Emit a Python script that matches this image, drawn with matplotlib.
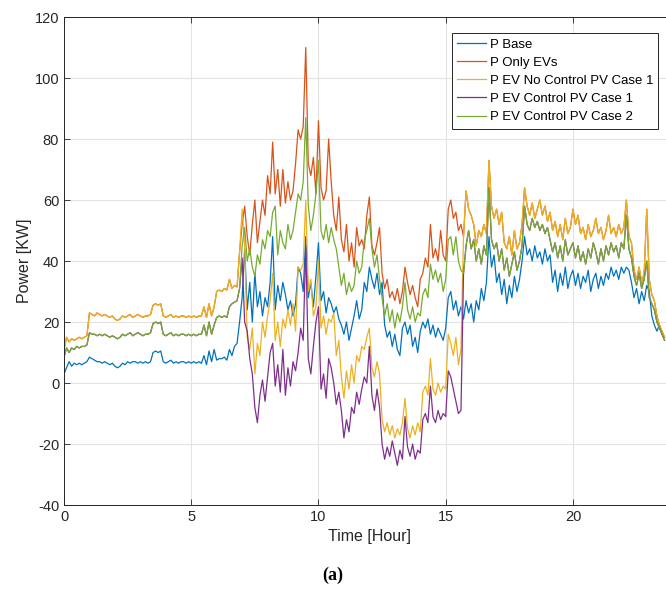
import numpy as np
import matplotlib
matplotlib.use("Agg")
import matplotlib.pyplot as plt

# 6-minute samples over the day, split into night / daytime (PV) / evening blocks
# night block: 0.0 .. 6.9 h
base_a = [3, 5, 7, 5.5, 6.5, 6, 6.5, 6, 6.5, 7,
          8.5, 8, 7.5, 7, 7, 6.5, 7, 6.5, 6, 6.5,
          5.5, 5, 5.5, 6.5, 6, 7, 6.5, 7, 7, 6.5,
          7, 6.5, 7, 6.5, 7, 10, 10.5, 10, 10.5, 7,
          6.5, 7, 7.5, 6.5, 7, 6.5, 7, 7, 6.5, 7,
          6.5, 7, 6.5, 7, 6.5, 9, 6, 10.5, 7, 11,
          7.5, 8, 8, 8.5, 7.5, 11, 9, 12, 13, 20]
ev_a = [11, 15, 13.5, 14.5, 14, 14.5, 15, 14.5, 15, 15.5,
        23, 22.5, 22, 23, 22.5, 22, 22.5, 22, 21.5, 22,
        21, 20.5, 21, 22, 21.5, 22, 22.5, 21.5, 22, 22.5,
        22, 21.5, 22, 22, 22.5, 25.5, 26, 25.5, 26, 22,
        21.5, 22, 22.5, 21.5, 22, 21.5, 22, 22, 21.5, 22,
        21.5, 22, 21.5, 22, 22, 25, 21.5, 26, 22, 25,
        30, 30.5, 30, 31, 30.5, 34, 31, 32, 31.5, 43]
ctl_a = [8.5, 11.5, 10, 11.5, 11, 12, 11.5, 12, 12, 12.5,
         16.5, 16, 16, 15.5, 16, 15.5, 16, 15.5, 15, 15.5,
         15, 14.5, 15, 16, 15.5, 16, 16.5, 15.5, 16, 16.5,
         16, 15.5, 16, 16, 16.5, 19.5, 20, 19.5, 20, 16,
         15.5, 16, 16.5, 15.5, 16, 15.5, 16, 16, 15.5, 16,
         15.5, 16, 15.5, 16, 16, 19, 15.5, 20, 16, 19,
         21.5, 22, 21.5, 22, 21.5, 25, 26, 26.5, 27, 31]

# daytime block: 7.0 .. 15.6 h
base_b = [28, 44, 24, 33, 20, 36, 25, 30, 22, 28,
          25, 33, 48, 24, 32, 27, 33, 29, 24, 27,
          22, 26, 38, 36, 30, 48, 28, 33, 25, 35,
          46, 27, 30, 23, 28, 26, 23, 25, 21, 19,
          16, 20, 14, 18, 22, 27, 21, 24, 33, 30,
          38, 34, 31, 36, 29, 33, 19, 15, 17, 12,
          16, 11, 9, 18, 20, 16, 19, 12, 15, 10,
          17, 20, 18, 21, 16, 19, 15, 18, 16, 14,
          18, 28, 30, 24, 27, 22, 25]
only_ev_b = [52, 58, 48, 42, 52, 60, 46, 53, 60, 55,
             68, 62, 79, 62, 70, 58, 70, 59, 66, 60,
             63, 72, 83, 80, 84, 110, 72, 68, 74, 62,
             86, 64, 60, 63, 80, 66, 55, 50, 61, 47,
             43, 52, 40, 46, 38, 51, 45, 47, 44, 55,
             61, 45, 42, 46, 51, 36, 31, 34, 28, 30,
             27, 31, 26, 30, 38, 33, 29, 32, 28, 25,
             34, 36, 41, 38, 52, 41, 44, 40, 50, 42,
             40, 57, 60, 54, 56, 50, 52]
nc_pv1_b = [57, 45, 15, 11, 18, 3, 13, 9, 20, 15,
            22, 27, 36, 14, 20, 12, 21, 18, 24, 19,
            26, 17, 38, 37, 39, 60, 30, 34, 22, 25,
            40, 18, 22, 16, 21, 20, 23, 9, 14, 2,
            -5, 4, -2, 6, 0, 9, 7, 12, 11, 15,
            18, 5, 2, 7, 3, -12, -16, -13, -17, -14,
            -18, -15, -17, -13, -5, -15, -18, -14, -17, -13,
            -16, -3, -1, -4, 8, -2, -4, 0, -3, -1,
            -2, 16, 13, 9, 15, 6, 11]
ctl_pv1_b = [41, 20, 17, 8, 3, -8, -13, -4, 1, -6,
             2, 10, 13, -1, 6, -3, 11, -4, 5, -1,
             7, 4, 10, 18, 14, 45, 8, 3, 12, 20,
             25, -2, 3, -5, 8, 5, 0, -7, -3, -9,
             -18, -12, -16, -8, -10, -3, -7, -2, 2, 0,
             12, -4, -9, -2, -8, -20, -25, -21, -24, -19,
             -23, -27, -22, -25, -11, -21, -24, -20, -25, -22,
             -23, -12, -10, -13, -1, -11, -13, -9, -12, -10,
             -11, 4, 2, -2, -6, -10, -9]
ctl_pv2_b = [45, 51, 40, 44, 38, 35, 42, 39, 47, 44,
             50, 48, 56, 58, 42, 50, 46, 44, 52, 47,
             50, 56, 62, 60, 66, 87, 58, 50, 55, 62,
             73, 50, 47, 52, 46, 51, 47, 44, 38, 32,
             36, 29, 33, 30, 32, 40, 36, 38, 47, 50,
             54, 44, 38, 42, 34, 28, 22, 26, 20, 24,
             18, 23, 20, 25, 33, 24, 21, 25, 20, 23,
             22, 29, 31, 28, 39, 34, 37, 33, 36, 30,
             34, 47, 48, 42, 48, 40, 37]

# evening block: 15.7 .. 23.6 h
base_c = [21, 27, 23, 26, 20, 27, 24, 31, 27, 33,
          48, 38, 42, 33, 36, 29, 34, 26, 32, 28,
          35, 30, 34, 40, 48, 42, 44, 40, 45, 41,
          43, 39, 44, 40, 42, 33, 37, 30, 36, 32,
          38, 31, 35, 37, 32, 36, 31, 35, 33, 37,
          30, 34, 36, 31, 35, 32, 36, 34, 38, 35,
          37, 34, 38, 36, 38, 37, 33, 28, 31, 26,
          30, 27, 32, 30, 22, 19, 17, 19, 16, 15]
ev_c = [48, 63, 57, 55, 52, 45, 50, 48, 52, 49,
        73, 58, 54, 57, 52, 56, 46, 44, 48, 42,
        50, 44, 46, 52, 64, 58, 55, 59, 54, 57,
        60, 55, 58, 53, 56, 50, 53, 48, 52, 47,
        54, 49, 51, 57, 52, 55, 49, 51, 47, 52,
        48, 50, 54, 49, 51, 47, 50, 55, 49, 51,
        48, 52, 49, 51, 60, 48, 46, 37, 34, 38,
        33, 36, 57, 34, 29, 27, 22, 19, 17, 15]
ctl_c = [36, 45, 50, 44, 47, 40, 44, 39, 45, 42,
         64, 47, 44, 46, 40, 44, 37, 41, 35, 39,
         43, 37, 40, 45, 58, 52, 50, 54, 51, 53,
         50, 52, 49, 51, 47, 43, 46, 41, 45, 40,
         47, 42, 44, 46, 41, 45, 40, 43, 39, 44,
         41, 46, 43, 39, 44, 40, 45, 42, 46, 43,
         45, 41, 46, 44, 55, 44, 41, 35, 32, 36,
         31, 34, 40, 28, 26, 24, 20, 18, 16, 14]

p_base = base_a + base_b + base_c
p_only_ev = ev_a + only_ev_b + ev_c
p_nc_pv1 = ev_a + nc_pv1_b + ev_c
p_ctl_pv1 = ctl_a + ctl_pv1_b + ctl_c
p_ctl_pv2 = ctl_a + ctl_pv2_b + ctl_c
hours = np.arange(len(p_base)) * 0.1

labels = ["P Base", "P Only EVs", "P EV No Control PV Case 1",
          "P EV Control PV Case 1", "P EV Control PV Case 2"]
colors = ["#0072BD", "#D95319", "#EDB120", "#7E2F8E", "#77AC30"]

plt.rcParams["font.family"] = ["Liberation Sans", "DejaVu Sans"]
plt.rcParams["axes.unicode_minus"] = False

fig = plt.figure(figsize=(6.66, 5.94), dpi=100)
ax = fig.add_axes([0.0961, 0.1498, 0.917, 0.8215])

for y, lab, c in zip([p_base, p_only_ev, p_nc_pv1, p_ctl_pv1, p_ctl_pv2], labels, colors):
    ax.plot(hours, y, color=c, lw=0.9, label=lab)

ax.set_xlim(0, 24)
ax.set_ylim(-40, 120)
ax.set_xticks([0, 5, 10, 15, 20])
ax.set_yticks(np.arange(-40, 121, 20))
ax.grid(True, color="#e3e3e3", lw=0.8)
ax.set_axisbelow(True)
ax.tick_params(direction="in", top=True, right=True, length=4, width=0.6,
               labelsize=10.5, colors="#262626", labelcolor="#262626")
for s in ax.spines.values():
    s.set_color("#262626")
    s.set_linewidth(0.7)

ax.set_xlabel("Time [Hour]", fontsize=11.5, color="#262626", labelpad=4)
ax.set_ylabel("Power [KW]", fontsize=11.5, color="#262626", labelpad=2)

leg = ax.legend(loc="upper left", bbox_to_anchor=(0.6787, 0.9444),
                bbox_transform=fig.transFigure, fontsize=9.5,
                fancybox=False, framealpha=1, edgecolor="#262626",
                handlelength=2.2, handletextpad=0.25, labelspacing=0.45,
                borderpad=0.4, borderaxespad=0)
leg.get_frame().set_linewidth(0.7)

fig.text(0.5, 0.032, "(a)", ha="center", va="center", fontsize=13,
         fontweight="bold", family="Liberation Serif")

fig.savefig("out.png", dpi=100)
